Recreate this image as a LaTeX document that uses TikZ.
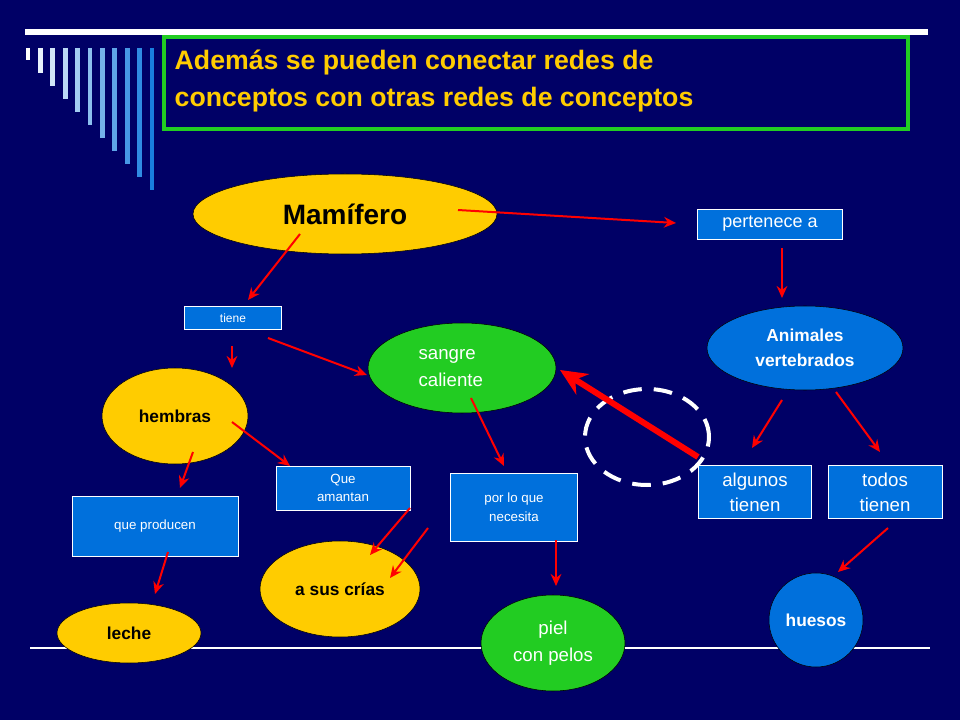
\documentclass[tikz,border=0pt]{standalone}
\usepackage{fontspec}
\setmainfont{Liberation Sans}
\usetikzlibrary{arrows.meta,shapes.geometric}
\definecolor{navy}{RGB}{0,0,102}
\definecolor{gold}{RGB}{255,204,0}
\definecolor{bluef}{RGB}{0,112,220}
\definecolor{greenf}{RGB}{34,204,34}
\definecolor{redl}{RGB}{255,0,0}
\tikzset{
 ell/.style={ellipse,draw=black,line width=0.4pt,inner sep=0pt,align=center},
 yel/.style={ell,fill=gold,text=black,font=\bfseries},
 gre/.style={ell,fill=greenf,text=white},
 blu/.style={ell,fill=bluef,text=white,font=\bfseries},
 bx/.style={draw=white,fill=bluef,text=white,inner sep=0pt,align=center,line width=0.6pt},
 arr/.style={redl,line width=1.5pt,-{Stealth[length=9pt,width=8pt]}},
}
\begin{document}
\begin{tikzpicture}[x=0.75pt,y=-0.75pt]
\fill[navy] (0,0) rectangle (960,720);
\useasboundingbox (0,0) rectangle (960,720);
\draw[white,line width=4pt] (25,32) -- (928,32);
\foreach \i in {0,...,10}{
  \pgfmathsetmacro{\xx}{28+12.4*\i}
  \pgfmathsetmacro{\yy}{60+13*\i}
  \pgfmathsetmacro{\cc}{100-9*\i}
  \draw[color=white!\cc!bluef,line width=3.5pt] (\xx,48) -- (\xx,\yy);
}
\draw[white,line width=0.8pt] (30,648) -- (930,648);
\node[draw=greenf,line width=3pt,minimum width=744*0.75pt,minimum height=92*0.75pt,anchor=north west,inner sep=0pt] (title) at (162,35) {};
\node[anchor=west,text=gold,font=\bfseries\fontsize{20}{28}\selectfont,align=left] (tt) at (170,81) {Además se pueden conectar redes de\\conceptos con otras redes de conceptos};

\node[yel,minimum width=304*0.75pt,minimum height=80*0.75pt,font=\bfseries\fontsize{21}{24}\selectfont] (mam) at (345,214) {Mamífero};
\node[bx,minimum width=145*0.75pt,minimum height=30*0.75pt,font=\fontsize{13.5}{16}\selectfont] (per) at (770,224) {pertenece a};
\node[blu,minimum width=196*0.75pt,minimum height=84*0.75pt,font=\bfseries\fontsize{13}{19}\selectfont] (ani) at (805,348) {Animales\\vertebrados};
\node[bx,minimum width=97*0.75pt,minimum height=23*0.75pt,font=\fontsize{9}{11}\selectfont] (tie) at (233,318) {tiene};
\node[gre,minimum width=188*0.75pt,minimum height=90*0.75pt,font=\fontsize{14}{20}\selectfont,align=left] (san) at (462,368) {sangre\\caliente\hspace*{1.2em}};
\node[yel,minimum width=146*0.75pt,minimum height=96*0.75pt,font=\bfseries\fontsize{13}{16}\selectfont] (hem) at (175,416) {hembras};
\node[bx,minimum width=134*0.75pt,minimum height=44*0.75pt,font=\fontsize{10}{14}\selectfont] (que) at (343,488) {Que\\amantan};
\node[bx,minimum width=127*0.75pt,minimum height=68*0.75pt,font=\fontsize{10}{14}\selectfont] (por) at (514,507) {por lo que\\necesita};
\node[bx,minimum width=166*0.75pt,minimum height=60*0.75pt,font=\fontsize{10}{12}\selectfont] (pro) at (155,526) {que producen};
\node[yel,minimum width=160*0.75pt,minimum height=96*0.75pt,font=\bfseries\fontsize{13}{16}\selectfont] (cri) at (340,589) {a sus crías};
\node[yel,minimum width=144*0.75pt,minimum height=60*0.75pt,font=\bfseries\fontsize{13}{16}\selectfont] (lec) at (129,633) {leche};
\node[gre,minimum width=144*0.75pt,minimum height=96*0.75pt,font=\fontsize{14}{20}\selectfont] (pie) at (553,643) {piel\\con pelos};
\node[bx,minimum width=113*0.75pt,minimum height=53*0.75pt,font=\fontsize{14}{19}\selectfont] (alg) at (755,492) {algunos\\tienen};
\node[bx,minimum width=114*0.75pt,minimum height=53*0.75pt,font=\fontsize{14}{19}\selectfont] (tod) at (885,492) {todos\\tienen};
\node[blu,circle,minimum size=94*0.75pt,font=\bfseries\fontsize{13}{16}\selectfont] (hue) at (816,620) {huesos};
\node[draw=white,dashed,line width=3pt,ellipse,minimum width=124*0.75pt,minimum height=96*0.75pt,dash pattern=on 14pt off 9pt] (dc) at (647,437) {};

\coordinate (a1) at (458,210); \coordinate (b1) at (676,223);
\draw[arr] (a1) -- (b1);
\draw[arr] (782,248) -- (782,298);
\draw[arr] (300,234) -- (248,300);
\draw[arr] (232,346) -- (232,368);
\draw[arr] (268,338) -- (367,375);
\draw[arr] (232,422) -- (290,466);
\draw[arr] (193,452) -- (180,488);
\draw[arr] (471,398) -- (504,466);
\draw[arr] (410,508) -- (370,555);
\draw[arr] (428,528) -- (390,578);
\draw[arr] (168,552) -- (155,594);
\draw[arr] (556,540) -- (556,586);
\draw[arr] (782,400) -- (752,448);
\draw[arr] (836,392) -- (880,452);
\draw[arr] (888,528) -- (838,572);
\draw[redl,line width=4.5pt,-{Stealth[length=20pt,width=18pt]}] (698,457) -- (560,370);
\end{tikzpicture}
\end{document}
